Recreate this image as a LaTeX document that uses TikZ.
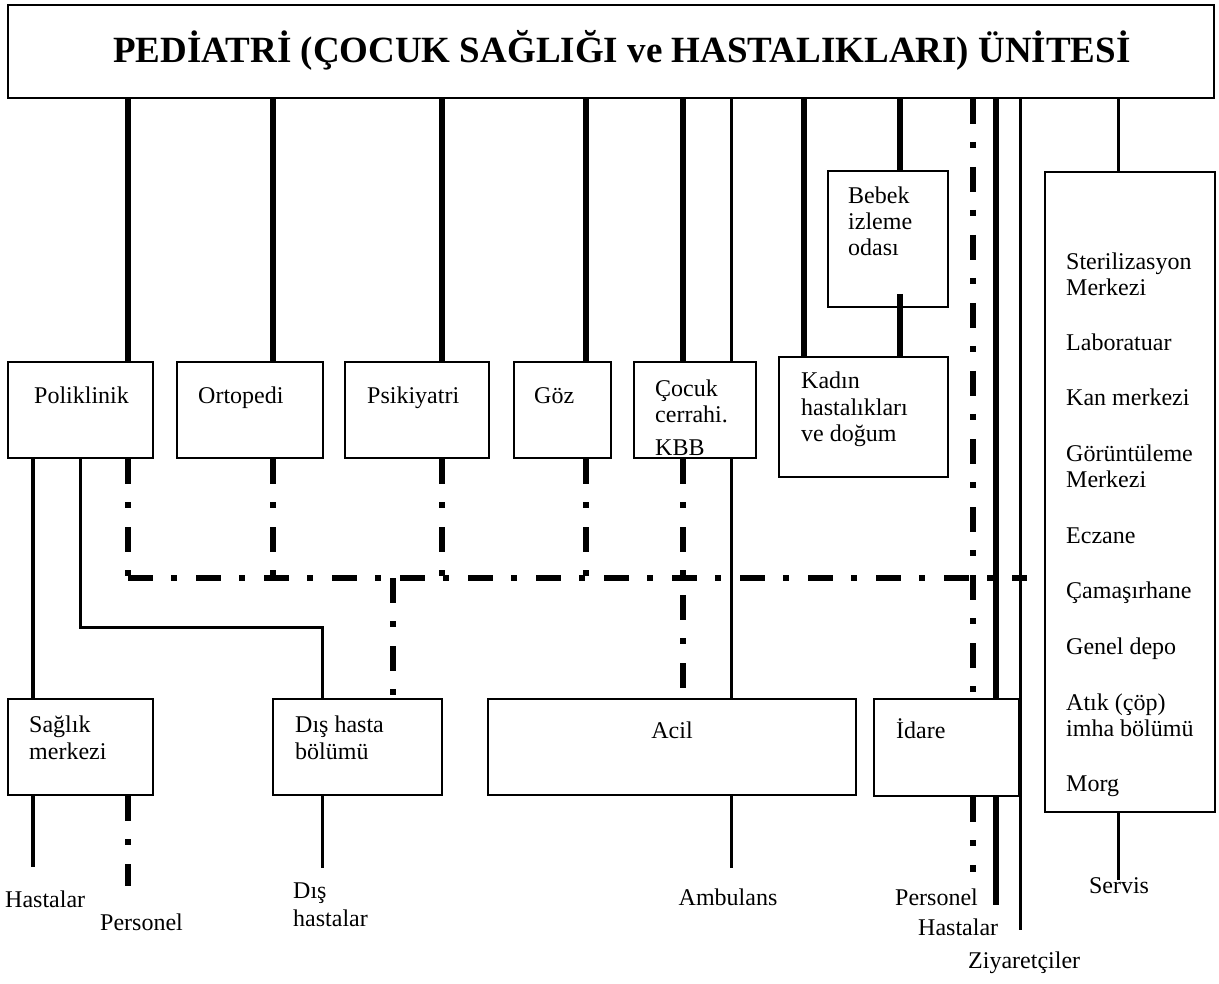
\documentclass[tikz,border=0pt]{standalone}
\usepackage{fontspec}
\setmainfont{Liberation Serif}
\usetikzlibrary{fit,calc}
\begin{document}
\begin{tikzpicture}[x=1pt,y=-1pt,
  box/.style={draw, line width=2pt, inner sep=0pt},
  txt/.style={font=\fontsize{24}{26}\selectfont, inner sep=0pt, anchor=base west},
  ctxt/.style={font=\fontsize{24}{26}\selectfont, inner sep=0pt, anchor=base},
  ttl/.style={font=\fontsize{37}{40}\selectfont\bfseries, inner sep=0pt, anchor=base},
  thk/.style={line width=5.5pt},
  mthk/.style={line width=4.5pt},
  med/.style={line width=3pt},
  dd/.style={line width=6pt, dash pattern=on 25pt off 18pt on 6pt off 19pt},
]
\useasboundingbox (0,0) rectangle (1219,984);

% ---------- boxes ----------
\node[box, fit={(8,5) (1214,98)}] (title) {};
\node[ttl] (titletext) at (622,63) {PEDİATRİ (ÇOCUK SAĞLIĞI ve HASTALIKLARI) ÜNİTESİ};

\node[box, fit={(8,362) (153,458)}] (poli) {};
\node[box, fit={(177,362) (323,458)}] (orto) {};
\node[box, fit={(345,362) (489,458)}] (psik) {};
\node[box, fit={(514,362) (611,458)}] (goz) {};
\node[box, fit={(634,362) (756,458)}] (cocuk) {};
\node[box, fit={(779,357) (948,477)}] (kadin) {};
\node[box, fit={(828,171) (948,307)}] (bebek) {};
\node[box, fit={(1045,172) (1215,812)}] (hiz) {};

\node[box, fit={(8,699) (153,795)}] (saglik) {};
\node[box, fit={(273,699) (442,795)}] (dis) {};
\node[box, fit={(488,699) (856,795)}] (acil) {};
\node[box, fit={(874,699) (1019,796)}] (idare) {};

% ---------- box texts ----------
\node[txt] (tpoli) at (34,403) {Poliklinik};
\node[txt] (torto) at (198,403) {Ortopedi};
\node[txt] (tpsik) at (367,403) {Psikiyatri};
\node[txt] (tgoz) at (534,403) {Göz};
\node[txt] (tcoc1) at (655,397) {Çocuk};
\node[txt] (tcoc2) at (655,423) {cerrahi.};
\begin{scope}
  \clip (635,363) rectangle (755,457);
  \node[txt] (tcoc3) at (655,455) {KBB};
\end{scope}
\node[txt] (tkad1) at (801,389) {Kadın};
\node[txt] (tkad2) at (801,415) {hastalıkları};
\node[txt] (tkad3) at (801,441) {ve doğum};
\node[txt] (tbeb1) at (848,204) {Bebek};
\node[txt] (tbeb2) at (848,230) {izleme};
\node[txt] (tbeb3) at (848,256) {odası};
\foreach \t/\yy [count=\i] in {Sterilizasyon/270, Merkezi/296, Laboratuar/351,
   Kan merkezi/406, Görüntüleme/461, Merkezi/487, Eczane/543, Çamaşırhane/598,
   Genel depo/654, {Atık (çöp)}/710, imha bölümü/736, Morg/791}
  \node[txt] (thiz\i) at (1066,\yy) {\t};
\node[txt] (tsag1) at (29,732) {Sağlık};
\node[txt] (tsag2) at (29,759) {merkezi};
\node[txt] (tdis1) at (295,732) {Dış hasta};
\node[txt] (tdis2) at (295,759) {bölümü};
\node[ctxt] (tacil) at (672,738) {Acil};
\node[txt] (tidare) at (896,738) {İdare};

% ---------- bottom labels ----------
\node[txt] (lhas1) at (5,907) {Hastalar};
\node[txt] (lper1) at (100,930) {Personel};
\node[txt] (ldis1) at (293,898) {Dış};
\node[txt] (ldis2) at (293,926) {hastalar};
\node[ctxt] (lamb) at (728,905) {Ambulans};
\node[txt] (lper2) at (895,905) {Personel};
\node[txt] (lhas2) at (918,935) {Hastalar};
\node[txt] (lziy) at (968,968) {Ziyaretçiler};
\node[ctxt] (lser) at (1119,893) {Servis};

% ---------- x positions and free ends ----------
\foreach \v in {33,80,128,273,322,393,442,586,683,731,804,900,973,996,1020,1118}
  \coordinate (v\v) at (\v,0);
\coordinate (h1) at (128,578);
\coordinate (h2) at (1027,578);
\coordinate (kp) at (322,627);
\coordinate (e33) at (33,867);
\coordinate (e128) at (128,886);
\coordinate (e322) at (322,868);
\coordinate (e731) at (731,868);
\coordinate (e973) at (973,872);
\coordinate (e996) at (996,905);
\coordinate (e1020) at (1020,930);
\coordinate (e1118) at (1118,880);

% ---------- connectors from title ----------
\draw[thk] (title.south -| v128) -- (poli.north -| v128);
\draw[thk] (title.south -| v273) -- (orto.north -| v273);
\draw[thk] (title.south -| v442) -- (psik.north -| v442);
\draw[thk] (title.south -| v586) -- (goz.north -| v586);
\draw[thk] (title.south -| v683) -- (cocuk.north -| v683);
\draw[med] (title.south -| v731) -- (cocuk.north -| v731);
\draw[thk] (title.south -| v804) -- (kadin.north -| v804);
\draw[thk] (title.south -| v900) -- (bebek.north -| v900);
\draw[thk] ($(bebek.south -| v900)+(0,-14)$) -- (kadin.north -| v900);
\draw[dd] (title.south -| v973) -- (idare.north -| v973);
\draw[thk] (title.south -| v996) -- (idare.north -| v996);
\draw[med] (title.south -| v1020) -- (e1020);
\draw[med] (title.south -| v1118) -- (hiz.north -| v1118);

% ---------- middle connectors ----------
\draw[mthk] (poli.south -| v33) -- (saglik.north -| v33);
\draw[med] (poli.south -| v80) |- (kp) -- (dis.north -| kp);
\draw[dd] (poli.south -| v128) -- (h1);
\draw[dd] (orto.south -| v273) -- (v273 |- h1);
\draw[dd] (psik.south -| v442) -- (v442 |- h1);
\draw[dd] (goz.south -| v586) -- (v586 |- h1);
\draw[dd] (cocuk.south -| v683) -- (acil.north -| v683);
\draw[med] (cocuk.south -| v731) -- (acil.north -| v731);
\draw[dd] (h1) -- (h2);
\draw[dd] (v393 |- h1) -- (dis.north -| v393);

% ---------- bottom connectors ----------
\draw[mthk] (saglik.south -| v33) -- (e33);
\draw[dd] (saglik.south -| v128) -- (e128);
\draw[med] (dis.south -| v322) -- (e322);
\draw[med] (acil.south -| v731) -- (e731);
\draw[dd] (idare.south -| v973) -- (e973);
\draw[thk] (idare.south -| v996) -- (e996);
\draw[med] (hiz.south -| v1118) -- (e1118);
\end{tikzpicture}
\end{document}
